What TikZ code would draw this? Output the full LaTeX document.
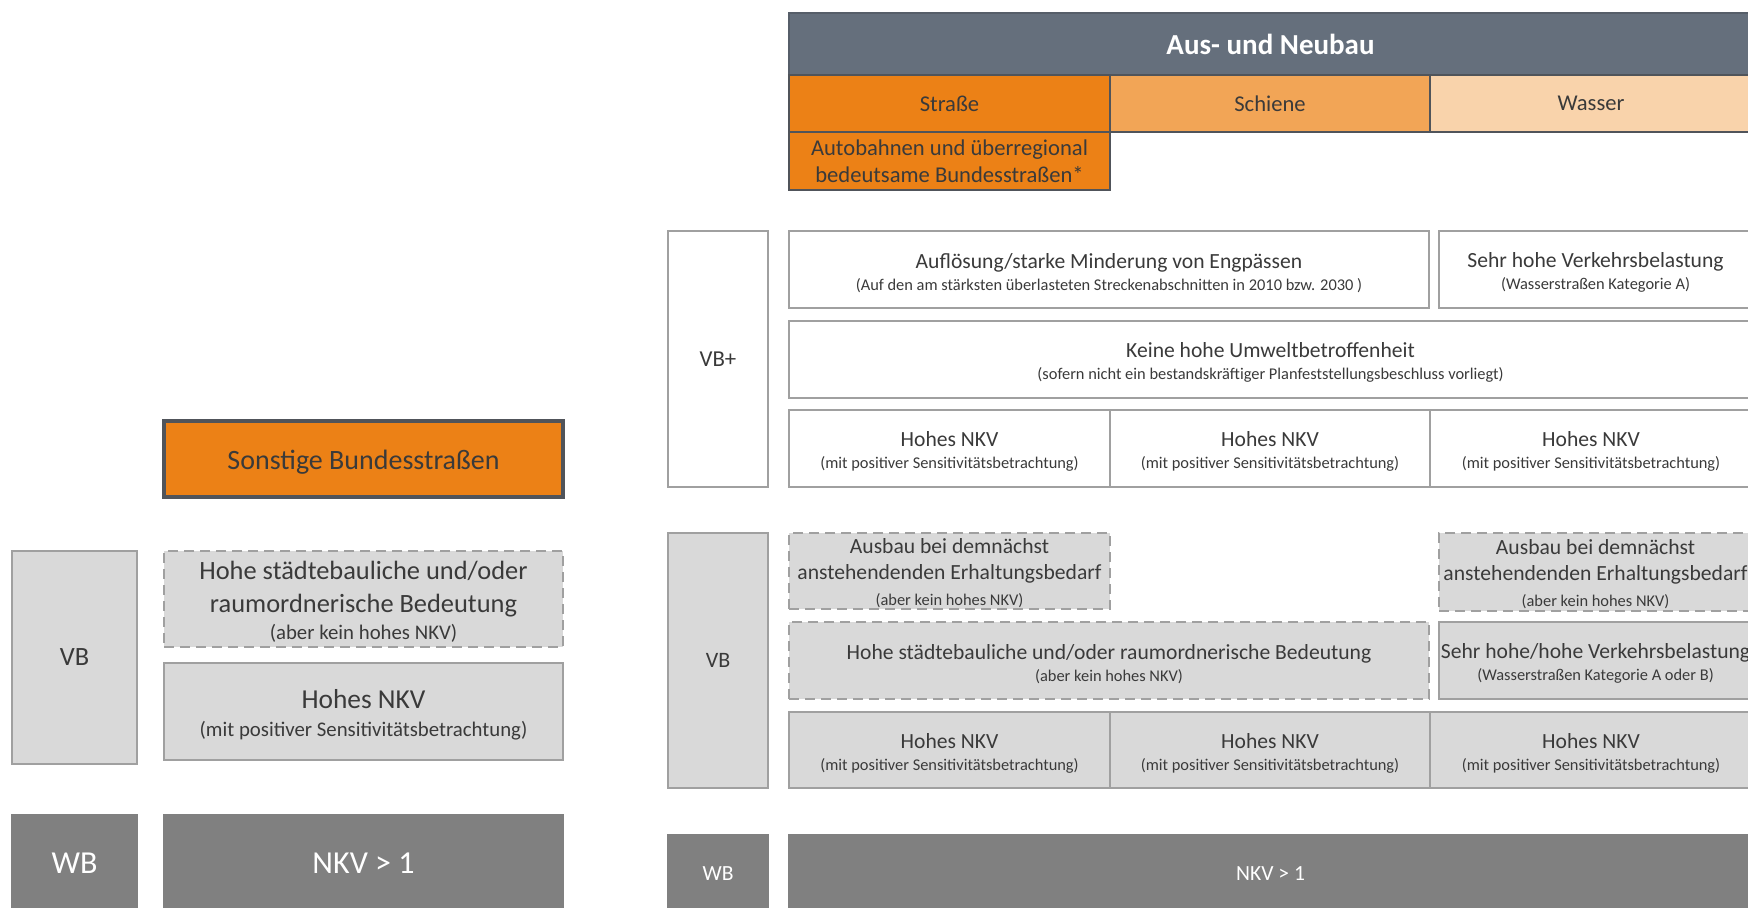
\documentclass[tikz,border=0pt]{standalone}
\usepackage{fontspec}
\setmainfont{Carlito}
\definecolor{hdrgray}{RGB}{101,111,124}
\definecolor{orA}{RGB}{236,129,22}
\definecolor{orB}{RGB}{242,165,86}
\definecolor{orC}{RGB}{249,211,171}
\definecolor{edgedark}{RGB}{80,84,90}
\definecolor{boxline}{RGB}{160,160,160}
\definecolor{fillgray}{RGB}{217,217,217}
\definecolor{darkfill}{RGB}{128,128,128}
\definecolor{txt}{RGB}{58,58,58}
\def\tsh{0pt}
\newcommand{\cellbox}[7]{%
  \node[#1, minimum width={(#5-#3)*0.5pt}, minimum height={(#6-#4)*0.5pt}] (#2) at ({(#3+#5)/2},{(#4+#6)/2}) {};
  \node[#1, draw=none, fill=none, minimum width=0pt, minimum height=0pt, yshift=\tsh] (#2-t) at (#2.center) {#7};}
\newcommand{\mR}{\fontsize{10.8}{11}\selectfont}
\newcommand{\sR}{\fontsize{8.2}{10}\selectfont}
\newcommand{\mL}{\fontsize{13.2}{16.5}\selectfont}
\newcommand{\sL}{\fontsize{10.4}{13}\selectfont}
\begin{document}
\begin{tikzpicture}[x=0.5pt,y=-0.5pt,
  tsh/.code={\def\tsh{#1}},
  base/.style={inner sep=0pt, outer sep=0pt, align=center, text=txt, line width=1.3pt},
  hdrbox/.style={base, fill=hdrgray, draw=hdrgray!85!black, text=white, font=\fontsize{14.5}{16}\selectfont\bfseries},
  orbox/.style={base, draw=edgedark, font=\fontsize{11.3}{13.5}\selectfont},
  whitebox/.style={base, fill=white, draw=boxline, font=\mR, tsh=-1.7pt},
  graybox/.style={base, fill=fillgray, draw=boxline, font=\mR, tsh=-1.7pt},
  dashbox/.style={graybox, dash pattern=on 5pt off 3pt},
  threeline/.style={font=\fontsize{10.8}{13}\selectfont, tsh=-1pt},
  darkbox/.style={base, fill=darkfill, draw=darkfill, text=white, font=\mR, tsh=0pt},
  lgray/.style={graybox, font=\mL},
  ldash/.style={dashbox, font=\mL}]
\useasboundingbox (0,0) rectangle (1748,908);
\clip (0,0) rectangle (1748,908);
% ---------- right part: header ----------
\cellbox{hdrbox}{hdr}{789}{13}{1752}{75}{Aus- und Neubau}
\cellbox{orbox, fill=orA}{str}{789}{75}{1110}{132}{Straße}
\cellbox{orbox, fill=orB}{sch}{1110}{75}{1430}{132}{Schiene}
\cellbox{orbox, fill=orC}{was}{1430}{75}{1752}{132}{Wasser}
\cellbox{orbox, fill=orA}{auto}{789}{132}{1110}{190}{Autobahnen und überregional\\bedeutsame Bundesstraßen*}
% ---------- VB+ ----------
\cellbox{whitebox, font=\fontsize{11.4}{13}\selectfont, tsh=0pt}{vbp}{668}{231}{768}{487}{VB+}
\cellbox{whitebox}{aufl}{789}{231}{1429}{308}{Auflösung/starke Minderung von Engpässen\\{\sR (Auf den am stärksten überlasteten Streckenabschnitten in 2010 bzw. 2030 )}}
\cellbox{whitebox}{sehr}{1439}{231}{1752}{308}{Sehr hohe Verkehrsbelastung\\{\sR (Wasserstraßen Kategorie A)}}
\cellbox{whitebox}{keine}{789}{321}{1752}{398}{Keine hohe Umweltbetroffenheit\\{\sR (sofern nicht ein bestandskräftiger Planfeststellungsbeschluss vorliegt)}}
\cellbox{whitebox}{nkvA}{789}{410}{1110}{487}{Hohes NKV\\{\sR (mit positiver Sensitivitätsbetrachtung)}}
\cellbox{whitebox}{nkvB}{1110}{410}{1430}{487}{Hohes NKV\\{\sR (mit positiver Sensitivitätsbetrachtung)}}
\cellbox{whitebox}{nkvC}{1430}{410}{1752}{487}{Hohes NKV\\{\sR (mit positiver Sensitivitätsbetrachtung)}}
% ---------- VB ----------
\cellbox{graybox, font=\fontsize{11}{13}\selectfont, tsh=0pt}{vbr}{668}{533}{768}{788}{VB}
\cellbox{dashbox, threeline}{ausA}{789}{533}{1110}{609}{Ausbau bei demnächst\\anstehendenden Erhaltungsbedarf\\{\sR (aber kein hohes NKV)}}
\cellbox{dashbox, threeline}{ausC}{1439}{533}{1752}{611}{Ausbau bei demnächst\\anstehendenden Erhaltungsbedarf\\{\sR (aber kein hohes NKV)}}
\cellbox{dashbox}{hst}{789}{622}{1429}{699}{Hohe städtebauliche und/oder raumordnerische Bedeutung\\{\sR (aber kein hohes NKV)}}
\cellbox{graybox}{shh}{1439}{622}{1752}{699}{Sehr hohe/hohe Verkehrsbelastung\\{\sR (Wasserstraßen Kategorie A oder B)}}
\cellbox{graybox}{nkvD}{789}{712}{1110}{788}{Hohes NKV\\{\sR (mit positiver Sensitivitätsbetrachtung)}}
\cellbox{graybox}{nkvE}{1110}{712}{1430}{788}{Hohes NKV\\{\sR (mit positiver Sensitivitätsbetrachtung)}}
\cellbox{graybox}{nkvF}{1430}{712}{1752}{788}{Hohes NKV\\{\sR (mit positiver Sensitivitätsbetrachtung)}}
% ---------- WB ----------
\cellbox{darkbox}{wbr}{668}{835}{768}{912}{WB}
\cellbox{darkbox}{nkvg}{789}{835}{1752}{912}{NKV > 1}
% ---------- left part ----------
\cellbox{orbox, fill=orA, line width=1.8pt, font=\fontsize{14}{16}\selectfont, tsh=-1.5pt}{son}{164}{421}{563}{497}{Sonstige Bundesstraßen}
\cellbox{lgray, tsh=0pt}{vbl}{12}{551}{137}{764}{VB}
\cellbox{ldash, tsh=-1.4pt}{hstl}{164}{551}{563}{647}{Hohe städtebauliche und/oder\\raumordnerische Bedeutung\\[-3.2pt]{\sL (aber kein hohes NKV)}}
\cellbox{lgray, font=\fontsize{13.7}{14}\selectfont, tsh=-1.7pt}{nkvl}{164}{663}{563}{760}{Hohes NKV\\{\sL (mit positiver Sensitivitätsbetrachtung)}}
\cellbox{darkbox, font=\fontsize{16}{18}\selectfont}{wbl}{12}{815}{137}{912}{WB}
\cellbox{darkbox, font=\fontsize{16}{18}\selectfont}{nkvgl}{164}{815}{563}{912}{NKV > 1}
\end{tikzpicture}
\end{document}
